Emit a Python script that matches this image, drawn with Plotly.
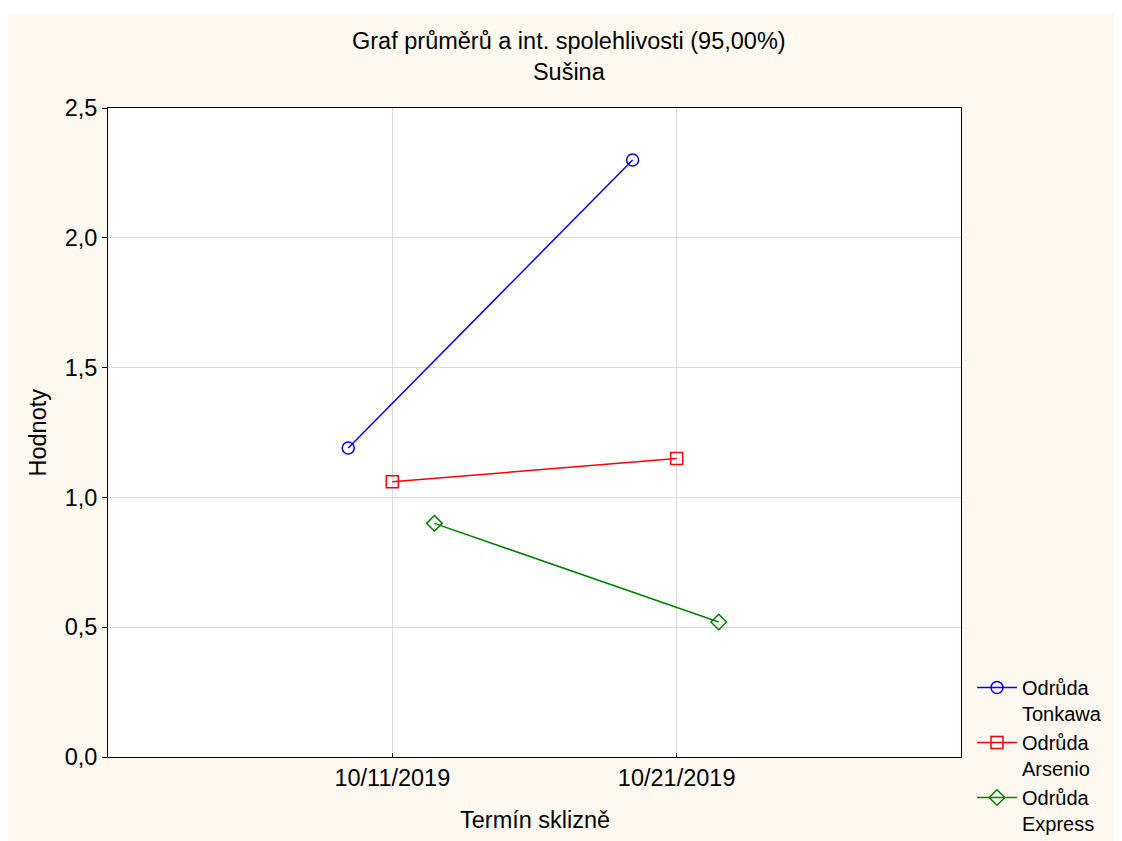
import plotly.graph_objects as go

# ---- data ----
categories = ["10/11/2019", "10/21/2019"]
series_names = ["Odrůda<br>Tonkawa", "Odrůda<br>Arsenio", "Odrůda<br>Express"]
tonkawa = [1.19, 2.30]
arsenio = [1.06, 1.15]
express = [0.90, 0.52]
y_ticks = [0.0, 0.5, 1.0, 1.5, 2.0, 2.5]

series_values = [tonkawa, arsenio, express]
colors = ["#0000FF", "#FF0000", "#008000"]
symbols = ["circle-open", "square-open", "diamond-open"]
offsets = [-0.155, 0.0, 0.148]

FONT = "Liberation Sans, Arial, sans-serif"
FS = 23.5
OFF = 8  # page body margin offset
W, H = 1122 - OFF, 841 - OFF
L, T = 108 - OFF, 108 - OFF
R = W - (961 - OFF)
B = H - (757 - OFF)
PW, PH = W - L - R, H - T - B


def px_x(xp):  # target pixel -> paper x
    return (xp - OFF - L) / PW


def px_y(yp):  # target pixel -> paper y
    return (H - B - (yp - OFF)) / PH


fig = go.Figure()
for name, vals, col, sym, off in zip(series_names, series_values, colors, symbols, offsets):
    xs = [i + off for i in range(len(categories))]
    fig.add_trace(go.Scatter(
        x=xs, y=vals, name=name, mode="lines+markers",
        line=dict(color=col, width=1.5),
        marker=dict(symbol=sym, size=12, color=col, line=dict(color=col, width=1.5)),
    ))

axis_common = dict(showline=True, linecolor="black", linewidth=1, mirror=True,
                   showgrid=True, gridcolor="#DCDCDC", gridwidth=1, zeroline=False,
                   tickfont=dict(family=FONT, size=FS, color="black"))

fig.update_xaxes(range=[-1, 2], tickmode="array", tickvals=list(range(len(categories))),
                 ticktext=categories, ticks="inside", ticklen=4, tickcolor="black",
                 **axis_common)
fig.update_yaxes(range=[0, 2.5], tickmode="array", tickvals=y_ticks, tickformat=".1f",
                 ticks="outside", ticklen=5, tickcolor="black", **axis_common)

fig.update_layout(
    width=W, height=H,
    margin=dict(l=L, r=R, t=T, b=B, pad=0, autoexpand=False),
    paper_bgcolor="#FDF9F0", plot_bgcolor="white",
    separators=",.",
    font=dict(family=FONT, size=FS, color="black"),
    showlegend=True,
    legend=dict(x=px_x(972), xanchor="left", y=px_y(668), yanchor="top",
                bgcolor="rgba(0,0,0,0)", valign="top", tracegroupgap=0,
                itemwidth=40,
                font=dict(family=FONT, size=20, color="black")),
    shapes=[
        dict(type="rect", xref="paper", yref="paper", layer="below",
             x0=px_x(8), x1=px_x(8 + W), y0=px_y(8 + H), y1=px_y(13),
             fillcolor="#FDF9F0", line=dict(width=0)),
        dict(type="rect", xref="paper", yref="paper", layer="below",
             x0=px_x(8), x1=px_x(8 + W), y0=px_y(13), y1=px_y(8),
             fillcolor="white", line=dict(width=0)),
        dict(type="rect", xref="paper", yref="paper", layer="below",
             x0=0, x1=1, y0=0, y1=1, fillcolor="white", line=dict(width=0)),
    ],
    annotations=[
        dict(text="Graf průměrů a int. spolehlivosti (95,00%)<br>Sušina",
             xref="paper", yref="paper", x=px_x(569), y=px_y(57),
             xanchor="center", yanchor="middle", showarrow=False,
             font=dict(family=FONT, size=FS, color="black")),
        dict(text="Termín sklizně", xref="paper", yref="paper",
             x=0.5, y=px_y(820), xanchor="center", yanchor="middle",
             showarrow=False, font=dict(family=FONT, size=FS, color="black")),
        dict(text="Hodnoty", xref="paper", yref="paper", textangle=-90,
             x=px_x(37), y=0.5, xanchor="center", yanchor="middle",
             showarrow=False, font=dict(family=FONT, size=FS, color="black")),
    ],
)

fig.write_html("out.html")
